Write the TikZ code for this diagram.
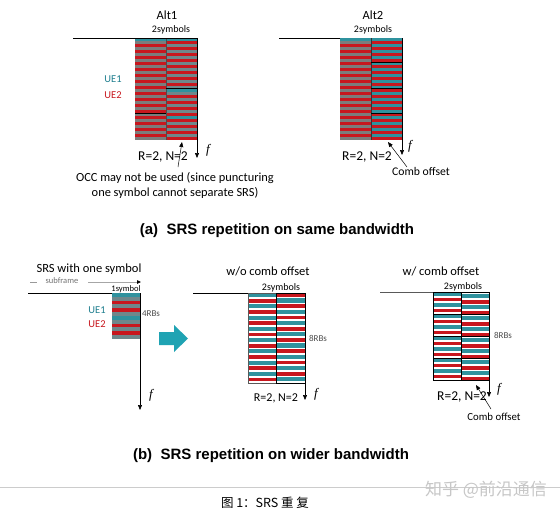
\documentclass[tikz,border=0pt]{standalone}
\usepackage{fontspec}
\setmainfont{Carlito}
\newfontfamily\arialf{Liberation Sans}
\newfontfamily\seriff{Liberation Serif}
\newfontfamily\cjkf{Noto Sans CJK SC}
\usetikzlibrary{arrows.meta}
\definecolor{srsred}{HTML}{C8171E}
\definecolor{srsgray}{HTML}{7C7C7C}
\definecolor{srstg}{HTML}{6F878B}
\definecolor{srsteal}{HTML}{2F929E}
\definecolor{ueteal}{HTML}{1F7F8F}
\definecolor{bigarrow}{HTML}{1FA3B3}
\tikzset{
  txt/.style={inner sep=0pt, outer sep=0pt},
  lbl/.style={txt, font=\fontsize{10}{11}\selectfont},
  tiny/.style={txt, font=\fontsize{9}{10}\selectfont, text=black!70},
  ttl/.style={txt, font=\fontsize{12.5}{14}\selectfont},
  rn/.style={txt, font=\fontsize{13.5}{15}\selectfont},
  ue/.style={txt, font=\fontsize{10.5}{11}\selectfont},
  fl/.style={txt, font=\fontsize{13}{14}\seriff\itshape},
  capt/.style={txt, font=\fontsize{15}{17}\arialf\bfseries},
  farrow/.style={-{Triangle[length=5pt,width=4pt]}, line width=0.6pt},
  pointer/.style={-{Triangle[length=5pt,width=4pt]}, line width=0.5pt},
  axis/.style={line width=0.8pt},
  grp/.style={draw=black, line width=0.6pt},
}
\begin{document}
\begin{tikzpicture}[x=1pt,y=-1pt]
\useasboundingbox (0,0) rectangle (560,517);
\fill[white] (0,0) rectangle (560,517);

% ================= Alt1 =================
\node[ttl] (alt1) at (167,15) {Alt1};
\node[lbl] (a1sym) at (171,30) {2symbols};
\foreach \i in {0,2,...,32} {
  \fill[srsred] (135,38+3*\i) rectangle (166,41+3*\i);
  \fill[srstg] (166,38+3*\i) rectangle (197,41+3*\i);
}
\foreach \i in {1,3,...,33} {
  \fill[srsgray] (135,38+3*\i) rectangle (166,41+3*\i);
  \fill[srsred] (166,38+3*\i) rectangle (197,41+3*\i);
}
\fill[srsteal] (135,38) rectangle (197,41);
\fill[srsteal] (166,89) rectangle (197,92);
\fill[srsteal] (166,116) rectangle (197,119);
\draw[line width=0.5pt, black!70] (166,38) -- (166,140);
\draw[line width=0.7pt] (135,113) -- (166,113);
\draw[line width=0.7pt] (166,88) -- (197,88);
\coordinate (a1top) at (135,38);
\coordinate (a1left) at (73,38);
\draw[axis] (a1left) -- (a1top);
\draw[axis] (a1top) -- (197,38);
\coordinate (a1f0) at (197,38);
\coordinate (a1f1) at (197,158);
\draw[farrow] (a1f0) -- (a1f1);
\node[fl] (a1f) at (208,150) {f};
\node[ue, text=ueteal] (a1ue1) at (113,79) {UE1};
\node[ue, text=srsred] (a1ue2) at (113,95) {UE2};
\node[rn] (a1rn) at (163,157) {R=2, N=2};
\coordinate (a1pt0) at (178,167);
\coordinate (a1pt1) at (182,142);
\draw[pointer] (a1pt0) -- (a1pt1);
\node[txt, font=\fontsize{12.4}{15}\selectfont, align=center] (occ) at (175,185.5)
  {OCC may not be used (since puncturing\\one symbol cannot separate SRS)};

% ================= Alt2 =================
\node[ttl] (alt2) at (373,15) {Alt2};
\node[lbl] (a2sym) at (373,30) {2symbols};
\foreach \i in {0,2,...,32} {
  \fill[srsred] (340,38+3*\i) rectangle (371,41+3*\i);
  \fill[srsteal] (371,38+3*\i) rectangle (402,41+3*\i);
}
\foreach \i in {1,3,...,33} {
  \fill[srsgray] (340,38+3*\i) rectangle (371,41+3*\i);
  \fill[srsred] (371,38+3*\i) rectangle (402,41+3*\i);
}
\fill[srsteal] (340,38) rectangle (371,41);
\draw[line width=0.6pt, black!80] (371,38) -- (371,140);
\draw[line width=0.6pt] (371,62) -- (402,62) (371,88) -- (402,88) (371,113) -- (402,113);
\coordinate (a2left) at (279,38);
\coordinate (a2top) at (340,38);
\draw[axis] (a2left) -- (a2top);
\coordinate (a2f0) at (402,38);
\coordinate (a2f1) at (402,155);
\draw[farrow] (a2f0) -- (a2f1);
\node[fl] (a2f) at (410,146) {f};
\node[rn] (a2rn) at (367,157) {R=2, N=2};
\node[txt, font=\fontsize{11.7}{13}\selectfont] (a2comb) at (421,171) {Comb offset};
\coordinate (a2pt0) at (407,167);
\coordinate (a2pt1) at (388,142);
\draw[pointer] (a2pt0) -- (a2pt1);

\node[capt] (capa) at (277,231) {(a)\ \ SRS repetition on same bandwidth};

% ================= SRS with one symbol =================
\node[txt, font=\fontsize{12.5}{14}\selectfont] (one) at (89,269) {SRS with one symbol};
\coordinate (sf0) at (30,282);
\coordinate (sf1) at (37,282);
\draw[black!40, line width=0.8pt] (sf0) -- (sf1);
\node[txt, font=\fontsize{8.5}{9}\selectfont, text=black!55] (sfl) at (62,281) {subframe};
\coordinate (sf2) at (88,282);
\coordinate (sf3) at (141,282);
\draw[black!35, line width=0.8pt, -{Triangle[length=4pt,width=3.5pt,black]}] (sf2) -- (sf3);
\coordinate (onel) at (28,293);
\coordinate (oner) at (112,293);
\draw[axis] (onel) -- (oner);
\node[lbl, font=\fontsize{8.5}{9}\selectfont] (onesym) at (126,289) {1symbol};
\foreach \i in {0,2,...,10} {
  \fill[srsred] (112,293+3.83*\i) rectangle (140,296.83+3.83*\i);
}
\foreach \i in {1,3,...,11} {
  \fill[srstg] (112,293+3.83*\i) rectangle (140,296.83+3.83*\i);
}
\fill[srsteal] (112,293) rectangle (140,296.83);
\fill[srsteal] (112,315.98) rectangle (140,319.81);
\node[tiny] (rb4) at (151,314) {4RBs};
\node[ue, text=ueteal] (oue1) at (97,310) {UE1};
\node[ue, text=srsred] (oue2) at (97,324) {UE2};
\coordinate (of0) at (140,293);
\coordinate (of1) at (140,410);
\draw[farrow] (of0) -- (of1);
\node[fl] (of) at (151,395) {f};
\fill[bigarrow] (159,332) -- (174,332) -- (174,325) -- (188,338.5) -- (174,352) -- (174,345) -- (159,345) -- cycle;

% ================= w/o comb offset =================
\node[ttl] (wo) at (268,271) {w/o comb offset};
\node[lbl] (wosym) at (281,288) {2symbols};
\coordinate (wol) at (193,293);
\coordinate (wot) at (248,293);
\draw[axis] (wol) -- (wot);
\foreach \k in {0,...,7} {
  \fill[srsteal] (248,293+11.25*\k) rectangle (276,297.2+11.25*\k);
  \fill[srsred] (248,298.8+11.25*\k) rectangle (276,302.6+11.25*\k);
  \fill[srsred] (276,293+11.25*\k) rectangle (305,296.8+11.25*\k);
  \fill[srsteal] (276,298.4+11.25*\k) rectangle (305,302.6+11.25*\k);
}
\draw[line width=0.7pt, black!65] (248,293) rectangle (276,383);
\draw[line width=0.7pt] (276,293) rectangle (305,383);
\node[tiny] (rb8a) at (318,338) {8RBs};
\coordinate (wof0) at (305,293);
\coordinate (wof1) at (305,400);
\draw[farrow] (wof0) -- (wof1);
\node[fl] (wof) at (316,394) {f};
\node[rn, font=\fontsize{12}{13}\selectfont] (worn) at (276,398) {R=2, N=2};

% ================= w/ comb offset =================
\node[ttl] (wc) at (441,271) {w/ comb offset};
\node[lbl] (wcsym) at (463,287) {2symbols};
\coordinate (wcl) at (380,292);
\coordinate (wct) at (433,292);
\draw[axis, black!65] (wcl) -- (wct);
\foreach \g in {0,...,3} {
  \foreach \p in {0,1} {
    \fill[srsteal] (433,292+22*\g+11*\p) rectangle (461,296+22*\g+11*\p);
    \fill[srsred] (433,297.5+22*\g+11*\p) rectangle (461,301.2+22*\g+11*\p);
    \fill[srsteal] (461,294.3+22*\g+11*\p) rectangle (489,298.3+22*\g+11*\p);
    \fill[srsred] (461,299.8+22*\g+11*\p) rectangle (489,303.5+22*\g+11*\p);
  }
}
\foreach \g in {0,...,3} {
  \draw[grp] (433,292+22*\g) rectangle (461,314+22*\g);
  \draw[grp] (461,292+22*\g) rectangle (489,314+22*\g);
}
\node[tiny] (rb8b) at (503,335) {8RBs};
\coordinate (wcf0) at (489,292);
\coordinate (wcf1) at (489,397);
\draw[farrow] (wcf0) -- (wcf1);
\node[fl] (wcf) at (499,389) {f};
\node[rn, font=\fontsize{13.5}{15}\selectfont] (wcrn) at (462,397) {R=2, N=2};
\node[txt, font=\fontsize{10.8}{12}\selectfont] (wccomb) at (494,417) {Comb offset};
\coordinate (wcpt0) at (491,409);
\coordinate (wcpt1) at (476,385);
\draw[pointer] (wcpt0) -- (wcpt1);

\node[capt] (capb) at (271,456) {(b)\ \ SRS repetition on wider bandwidth};

% ================= footer =================
\coordinate (sep0) at (0,487);
\coordinate (sep1) at (560,487);
\draw[black!20, line width=0.6pt] (sep0) -- (sep1);
\node[txt, font=\fontsize{12.5}{13}\cjkf] (fig) at (265,503) {图 1：SRS 重 复};
\node[txt, font=\fontsize{17}{18}\cjkf, text=black!22] (wm) at (486,490) {知乎 @前沿通信};
\end{tikzpicture}
\end{document}
